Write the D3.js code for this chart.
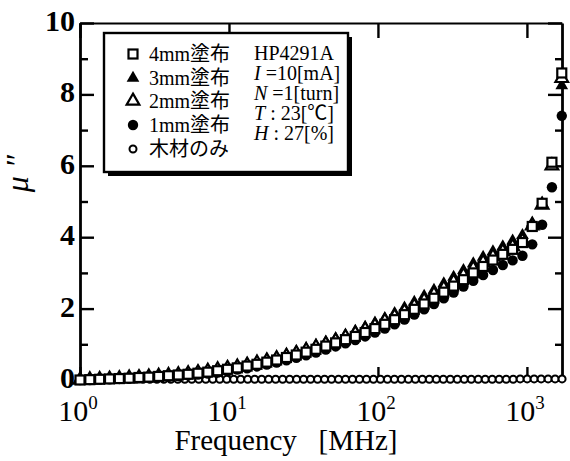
<!DOCTYPE html>
<html>
<head>
<meta charset="utf-8">
<script src="https://d3js.org/d3.v7.min.js"></script>
<style>
body { margin:0; background:#fff; }
svg text { font-family: "Liberation Serif", "Noto Sans CJK JP", serif; fill:#000; }
</style>
</head>
<body>
<div id="chart"></div>
<script>
// frequency points [MHz] for the coated samples
var freq = [1.000,1.164,1.355,1.578,1.837,2.138,2.489,2.897,3.373,3.926,
  4.571,5.321,6.194,7.211,8.395,9.772,11.38,13.24,15.42,17.95,
  20.89,24.32,28.31,32.96,38.37,44.67,52.00,60.53,70.47,82.04,
  95.50,111.2,129.4,150.7,175.4,204.2,237.7,276.7,322.1,375.0,
  436.5,508.2,591.6,688.7,801.7,933.3,1086,1265,1472,1714];

var mm4 = [0.00,0.01,0.02,0.03,0.04,0.05,0.07,0.08,0.10,0.12,
  0.14,0.16,0.19,0.22,0.26,0.30,0.34,0.39,0.44,0.50,
  0.56,0.63,0.70,0.78,0.86,0.95,1.04,1.13,1.22,1.33,
  1.44,1.56,1.69,1.83,1.98,2.13,2.29,2.46,2.63,2.81,
  3.00,3.18,3.36,3.52,3.66,3.85,4.30,4.95,6.10,8.60];

var mm3 = [0.00,0.01,0.02,0.03,0.05,0.06,0.08,0.10,0.12,0.14,
  0.17,0.20,0.23,0.27,0.31,0.35,0.40,0.45,0.51,0.57,
  0.64,0.71,0.79,0.88,0.97,1.06,1.16,1.26,1.37,1.48,
  1.60,1.73,1.87,2.02,2.18,2.35,2.52,2.70,2.88,3.07,
  3.26,3.44,3.60,3.74,3.90,4.05,4.40,4.95,6.00,8.25];

var mm2 = [0.00,0.01,0.02,0.03,0.04,0.06,0.07,0.09,0.11,0.13,
  0.15,0.18,0.21,0.25,0.29,0.33,0.37,0.42,0.48,0.54,
  0.60,0.67,0.75,0.83,0.92,1.01,1.10,1.20,1.30,1.41,
  1.52,1.65,1.78,1.92,2.07,2.23,2.40,2.57,2.75,2.93,
  3.12,3.30,3.46,3.60,3.74,3.90,4.32,4.90,6.00,8.45];

var mm1 = [0.00,0.00,0.01,0.02,0.03,0.04,0.05,0.06,0.08,0.09,
  0.11,0.13,0.15,0.18,0.21,0.25,0.29,0.33,0.38,0.43,
  0.49,0.55,0.62,0.69,0.77,0.85,0.94,1.03,1.12,1.22,
  1.33,1.44,1.56,1.69,1.83,1.98,2.13,2.29,2.45,2.62,
  2.78,2.94,3.08,3.22,3.35,3.48,3.80,4.35,5.40,7.40];

// wood only, denser sweep
var woodFreq = [1.000,1.114,1.241,1.383,1.541,1.717,1.913,2.131,2.374,2.645,
  2.944,3.281,3.654,4.071,4.535,5.052,5.629,6.271,6.986,7.783,
  8.670,9.658,10.76,11.99,13.36,14.88,16.58,18.47,20.57,22.92,
  25.53,28.44,31.68,35.30,39.32,43.81,48.80,54.37,60.57,67.47,
  75.16,83.74,93.28,103.9,115.8,129.0,143.7,160.1,178.3,198.7,
  221.3,246.6,274.7,306.0,340.9,379.8,423.1,471.3,525.1,585.0,
  651.6,726.0,808.8,901.0,1004,1118,1246,1388,1546,1722];
var wood = [0.02,0.02,0.02,0.02,0.02,0.02,0.02,0.02,0.02,0.02,
  0.02,0.02,0.02,0.02,0.02,0.02,0.02,0.02,0.02,0.02,
  0.02,0.02,0.02,0.02,0.02,0.02,0.02,0.02,0.02,0.02,
  0.02,0.02,0.02,0.02,0.02,0.02,0.02,0.02,0.02,0.02,
  0.02,0.02,0.02,0.02,0.02,0.02,0.02,0.02,0.02,0.02,
  0.02,0.02,0.02,0.02,0.02,0.02,0.02,0.02,0.02,0.02,
  0.02,0.02,0.02,0.03,0.03,0.03,0.03,0.03,0.03,0.03];

var xTicks = [1, 10, 100, 1000],
  xExp = ['0', '1', '2', '3'];
var yMajor = [0, 2, 4, 6, 8, 10],
  yMinor = [1, 3, 5, 7, 9];

var legendNames = ['4mm塗布', '3mm塗布', '2mm塗布', '1mm塗布', '木材のみ'];
var condLines = [['', 'HP4291A'], ['I', ' =10[mA]'], ['N', ' =1[turn]'], ['T', ' : 23[℃]'], ['H', ' : 27[%]']];

var serif = '"Liberation Serif", "Noto Sans CJK JP", serif';

var svgWidth = 570, svgHeight = 461;
var margin = {t:23, r:8, b:81, l:80};
var width = svgWidth - margin.l - margin.r,
  height = svgHeight - margin.t - margin.b;

var svg = d3.select('#chart').append('svg')
  .attr('width', svgWidth)
  .attr('height', svgHeight)
  .style('font-family', serif);

var chart = svg.append('g')
  .attr('transform', `translate(${margin.l},${margin.t})`);

var xScale = d3.scaleLog().domain([1, 1720]).range([0, width]);
var yScale = d3.scaleLinear().domain([0, 10]).range([height, 0]);

// axes, ticks inside the frame
function styleAxis(g, sw) {
  g.select('.domain').attr('stroke', '#000').attr('stroke-width', sw);
  g.selectAll('.tick line').attr('stroke', '#000').attr('stroke-width', 2.4);
  g.selectAll('.tick text').remove();
}

chart.append('g').attr('transform', `translate(0,${height})`)
  .call(d3.axisBottom(xScale).tickValues(xTicks).tickSizeInner(-13).tickSizeOuter(0))
  .call(styleAxis, 2.8);
chart.append('g')
  .call(d3.axisTop(xScale).tickValues(xTicks).tickSizeInner(-15).tickSizeOuter(0))
  .call(styleAxis, 2);
chart.append('g')
  .call(d3.axisLeft(yScale).tickValues(yMajor).tickSizeInner(-14).tickSizeOuter(0))
  .call(styleAxis, 2.8);
chart.append('g')
  .call(d3.axisLeft(yScale).tickValues(yMinor).tickSizeInner(-8).tickSizeOuter(0))
  .call(styleAxis, 0);
chart.append('g').attr('transform', `translate(${width},0)`)
  .call(d3.axisRight(yScale).tickValues(yMajor).tickSizeInner(-14).tickSizeOuter(0))
  .call(styleAxis, 2.8);
chart.append('g').attr('transform', `translate(${width},0)`)
  .call(d3.axisRight(yScale).tickValues(yMinor).tickSizeInner(-7).tickSizeOuter(0))
  .call(styleAxis, 0);

// tick labels
chart.selectAll('.ylab').data(yMajor).enter().append('text')
  .attr('class', 'ylab')
  .attr('x', -5)
  .attr('y', d => yScale(d) + 8)
  .attr('text-anchor', 'end')
  .style('font-family', serif)
  .style('font-size', '30px')
  .style('font-weight', 'bold')
  .text(d => d);

var xl = chart.selectAll('.xlab').data(xTicks).enter().append('text')
  .attr('class', 'xlab')
  .attr('x', d => xScale(d) - 2)
  .attr('y', height + 41)
  .attr('text-anchor', 'middle')
  .style('font-family', serif)
  .style('font-size', '30px');
xl.append('tspan').text('10');
xl.append('tspan').attr('dy', -12).style('font-size', '19px').text((d, i) => xExp[i]);

chart.append('text')
  .attr('x', width / 2 - 35)
  .attr('y', height + 70)
  .attr('text-anchor', 'middle')
  .style('font-family', serif)
  .style('font-size', '29px')
  .style('white-space', 'pre')
  .text('Frequency   [MHz]');

chart.append('text')
  .attr('transform', `translate(-52,${height / 2 - 28})rotate(-90)`)
  .attr('text-anchor', 'middle')
  .style('font-family', serif)
  .style('font-size', '32px')
  .style('font-style', 'italic')
  .style('white-space', 'pre')
  .text('μ ″');

// markers
var tri = d3.symbol().type(d3.symbolTriangle).size(70);

chart.selectAll('.wood').data(woodFreq).enter().append('circle')
  .attr('cx', d => xScale(d))
  .attr('cy', (d, i) => yScale(wood[i]))
  .attr('r', 3.5)
  .attr('fill', '#fff').attr('stroke', '#000').attr('stroke-width', 2);

chart.selectAll('.m1').data(freq).enter().append('circle')
  .attr('cx', d => xScale(d))
  .attr('cy', (d, i) => yScale(mm1[i]))
  .attr('r', 5.2)
  .attr('fill', '#000');

chart.selectAll('.m3').data(freq).enter().append('path')
  .attr('d', tri)
  .attr('transform', (d, i) => `translate(${xScale(d)},${yScale(mm3[i])})`)
  .attr('fill', '#000');

chart.selectAll('.m2').data(freq).enter().append('path')
  .attr('d', tri)
  .attr('transform', (d, i) => `translate(${xScale(d)},${yScale(mm2[i])})`)
  .attr('fill', '#fff').attr('stroke', '#000').attr('stroke-width', 2.2);

chart.selectAll('.m4').data(freq).enter().append('rect')
  .attr('x', d => xScale(d) - 4.5)
  .attr('y', (d, i) => yScale(mm4[i]) - 4.5)
  .attr('width', 9).attr('height', 9)
  .attr('fill', '#fff').attr('stroke', '#000').attr('stroke-width', 2.2);

// legend box with shadow
var lg = svg.append('g').attr('transform', 'translate(104,33)');
lg.append('rect').attr('x', 4).attr('y', 4).attr('width', 244).attr('height', 139).attr('fill', '#000');
lg.append('rect').attr('x', 0).attr('y', 0).attr('width', 244).attr('height', 139)
  .attr('fill', '#fff').attr('stroke', '#000').attr('stroke-width', 2.4);

var rowY = [21, 45, 68, 92, 116];
lg.append('rect').attr('x', 24.5).attr('y', rowY[0] - 4.5).attr('width', 9).attr('height', 9)
  .attr('fill', '#fff').attr('stroke', '#000').attr('stroke-width', 2.2);
lg.append('path').attr('d', tri).attr('transform', `translate(29,${rowY[1]})`).attr('fill', '#000');
lg.append('path').attr('d', tri).attr('transform', `translate(29,${rowY[2]})`)
  .attr('fill', '#fff').attr('stroke', '#000').attr('stroke-width', 2.2);
lg.append('circle').attr('cx', 29).attr('cy', rowY[3]).attr('r', 5.2).attr('fill', '#000');
lg.append('circle').attr('cx', 29).attr('cy', rowY[4]).attr('r', 3.5)
  .attr('fill', '#fff').attr('stroke', '#000').attr('stroke-width', 2);

lg.selectAll('.lname').data(legendNames).enter().append('text')
  .attr('x', 45)
  .attr('y', (d, i) => rowY[i] + 7)
  .style('font-family', serif)
  .style('font-size', '20px')
  .text(d => d);

var cl = lg.selectAll('.cond').data(condLines).enter().append('text')
  .attr('x', 150)
  .attr('y', (d, i) => 27 + i * 20)
  .style('font-family', serif)
  .style('font-size', '20px')
  .style('white-space', 'pre');
cl.append('tspan').style('font-style', 'italic').text(d => d[0]);
cl.append('tspan').text(d => d[1]);
</script>
</body>
</html>
